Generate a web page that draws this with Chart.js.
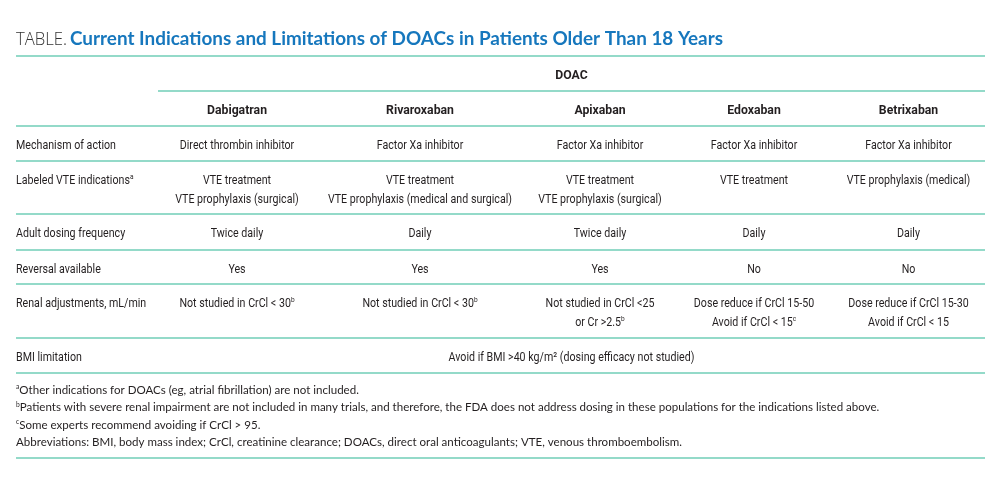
<!DOCTYPE html>
<html lang="en">

<head>
    <meta charset="UTF-8">
    <title>DOACs table</title>
    <script src="https://cdn.jsdelivr.net/npm/chart.js"></script>
    <style>
        html, body { margin: 0; padding: 0; background: #ffffff; }
        #tabela { display: block; }
    </style>
</head>

<body>
    <canvas id="tabela" width="1000" height="479"></canvas>

<script>
    // ---- dados da tabela ----
    const tituloPrefixo = 'TABLE.';
    const titulo = 'Current Indications and Limitations of DOACs in Patients Older Than 18 Years';
    const grupo = 'DOAC';
    const drogas = ['Dabigatran', 'Rivaroxaban', 'Apixaban', 'Edoxaban', 'Betrixaban'];
    const linhas = ['Mechanism of action', 'Labeled VTE indications^a', 'Adult dosing frequency',
        'Reversal available', 'Renal adjustments, mL/min', 'BMI limitation'];

    const mecanismo = ['Direct thrombin inhibitor', 'Factor Xa inhibitor', 'Factor Xa inhibitor',
        'Factor Xa inhibitor', 'Factor Xa inhibitor'];
    const indicacoes = [
        ['VTE treatment', 'VTE prophylaxis (surgical)'],
        ['VTE treatment', 'VTE prophylaxis (medical and surgical)'],
        ['VTE treatment', 'VTE prophylaxis (surgical)'],
        ['VTE treatment'],
        ['VTE prophylaxis (medical)']
    ];
    const dosagem = ['Twice daily', 'Daily', 'Twice daily', 'Daily', 'Daily'];
    const reversao = ['Yes', 'Yes', 'Yes', 'No', 'No'];
    const renal = [
        ['Not studied in CrCl < 30^b'],
        ['Not studied in CrCl < 30^b'],
        ['Not studied in CrCl <25', 'or Cr >2.5^b'],
        ['Dose reduce if CrCl 15-50', 'Avoid if CrCl < 15^c'],
        ['Dose reduce if CrCl 15-30', 'Avoid if CrCl < 15']
    ];
    const imc = 'Avoid if BMI >40 kg/m\u00B2 (dosing efficacy not studied)';

    const notas = [
        '^aOther indications for DOACs (eg, atrial fibrillation) are not included.',
        '^bPatients with severe renal impairment are not included in many trials, and therefore, the FDA does not address dosing in these populations for the indications listed above.',
        '^cSome experts recommend avoiding if CrCl > 95.',
        'Abbreviations: BMI, body mass index; CrCl, creatinine clearance; DOACs, direct oral anticoagulants; VTE, venous thromboembolism.'
    ];

    // ---- layout (unidades da tabela) ----
    const largurasColunas = [142, 158, 208, 152, 156, 153];
    const alturasLinhas = [35, 35, 35, 53, 36, 34, 54, 35];
    const deslocTexto = 18;
    const entreLinhas = 19;

    const corTexto = '#231f20';
    const corTitulo = '#1677bd';
    const corLinha = '#94dac9';
    const fonteCorpo = 'Roboto, "DejaVu Sans", sans-serif';
    const fonteNotas = 'Lato, "Open Sans", sans-serif';
    const tamCorpo = 13;

    const bordasX = [0];
    largurasColunas.forEach(function (w, i) { bordasX.push(bordasX[i] + w); });
    const bordasY = [0];
    alturasLinhas.forEach(function (h, i) { bordasY.push(bordasY[i] + h); });
    const larguraTotal = bordasX[bordasX.length - 1];
    const alturaTotal = bordasY[bordasY.length - 1];

    function centroColuna(c) { return (bordasX[c] + bordasX[c + 1]) / 2; }

    // monta as celulas (um ponto por linha de texto)
    const pontos = [];
    const celulas = [];

    function addCelula(linha, x, textos, alinhar, negrito) {
        textos.forEach(function (t, i) {
            pontos.push({ x: x, y: bordasY[linha] + deslocTexto + entreLinhas * i });
            celulas.push({ texto: t, alinhar: alinhar, negrito: negrito });
        });
    }

    addCelula(0, (bordasX[1] + larguraTotal) / 2, [grupo], 'center', true);
    drogas.forEach(function (d, c) { addCelula(1, centroColuna(c + 1), [d], 'center', true); });

    const corpo = [mecanismo, indicacoes, dosagem, reversao, renal];
    linhas.forEach(function (rot, r) {
        addCelula(r + 2, 0, [rot], 'left', false);
        if (r < corpo.length) {
            corpo[r].forEach(function (v, c) {
                addCelula(r + 2, centroColuna(c + 1), Array.isArray(v) ? v : [v], 'center', false);
            });
        }
    });
    addCelula(7, (bordasX[1] + larguraTotal) / 2, [imc], 'center', false);

    // desenha texto com sobrescrito marcado por ^x (escalaX comprime na horizontal)
    function textoComSobrescrito(ctx, texto, x, y, tamanho, familia, peso, alinhar, escalaX) {
        escalaX = escalaX || 1;
        const partes = [];
        const re = /\^(.)/g;
        let ultimo = 0, m;
        while ((m = re.exec(texto)) !== null) {
            if (m.index > ultimo) partes.push({ t: texto.slice(ultimo, m.index), sup: false });
            partes.push({ t: m[1], sup: true });
            ultimo = re.lastIndex;
        }
        if (ultimo < texto.length) partes.push({ t: texto.slice(ultimo), sup: false });

        const fNormal = peso + ' ' + tamanho + 'px ' + familia;
        const fSup = peso + ' ' + Math.round(tamanho * 0.6) + 'px ' + familia;
        let total = 0;
        partes.forEach(function (p) {
            ctx.font = p.sup ? fSup : fNormal;
            p.w = ctx.measureText(p.t).width * escalaX;
            total += p.w;
        });
        let cx = alinhar === 'center' ? x - total / 2 : x;
        ctx.textAlign = 'left';
        ctx.textBaseline = 'alphabetic';
        partes.forEach(function (p) {
            ctx.font = p.sup ? fSup : fNormal;
            ctx.save();
            ctx.translate(cx, p.sup ? y - tamanho * 0.38 : y);
            ctx.scale(escalaX, 1);
            ctx.fillText(p.t, 0, 0);
            ctx.restore();
            cx += p.w;
        });
    }

    function larguraTexto(ctx, fonte, texto) {
        ctx.font = fonte;
        return ctx.measureText(texto).width;
    }

    const pluginTabela = {
        id: 'pluginTabela',
        afterDatasetsDraw: function (chart) {
            const ctx = chart.ctx;
            const sx = chart.scales.x;
            const sy = chart.scales.y;
            const area = chart.chartArea;
            ctx.save();

            // fonte condensada: ajusta a largura para a do original
            const escNormal = 100 / larguraTexto(ctx, 'normal ' + tamCorpo + 'px ' + fonteCorpo, 'Mechanism of action');
            const escBold = 60 / larguraTexto(ctx, 'bold ' + tamCorpo + 'px ' + fonteCorpo, 'Dabigatran');

            // titulo
            ctx.fillStyle = '#333333';
            const escPref = 51 / larguraTexto(ctx, '300 19px "Open Sans", sans-serif', tituloPrefixo);
            textoComSobrescrito(ctx, tituloPrefixo, area.left, 45, 19, '"Open Sans", sans-serif', '300', 'left', escPref);
            ctx.fillStyle = corTitulo;
            const escTit = 653 / larguraTexto(ctx, 'bold 19px Lato, sans-serif', titulo);
            textoComSobrescrito(ctx, titulo, 70, 45, 19, 'Lato, sans-serif', 'bold', 'left', escTit);

            // linhas horizontais
            ctx.strokeStyle = corLinha;
            ctx.lineWidth = 2;
            bordasY.forEach(function (b, i) {
                const x0 = i === 1 ? sx.getPixelForValue(bordasX[1]) : sx.getPixelForValue(0);
                const y = Math.round(sy.getPixelForValue(b));
                ctx.beginPath();
                ctx.moveTo(x0, y);
                ctx.lineTo(sx.getPixelForValue(larguraTotal), y);
                ctx.stroke();
            });

            // celulas
            ctx.fillStyle = corTexto;
            const meta = chart.getDatasetMeta(0);
            meta.data.forEach(function (el, i) {
                const c = celulas[i];
                textoComSobrescrito(ctx, c.texto, el.x, el.y + 5, tamCorpo, fonteCorpo,
                    c.negrito ? 'bold' : 'normal', c.alinhar, c.negrito ? escBold : escNormal);
            });

            // notas de rodape
            const baseNotas = area.bottom + 21;
            const escNotas = 666 / larguraTexto(ctx, 'normal 12px ' + fonteNotas, notas[3]);
            notas.forEach(function (n, i) {
                textoComSobrescrito(ctx, n, area.left, baseNotas + 17.3 * i, 12, fonteNotas, 'normal', 'left', escNotas);
            });
            const yRodape = Math.round(baseNotas + 17.3 * 3 + 12);
            ctx.beginPath();
            ctx.moveTo(area.left, yRodape);
            ctx.lineTo(area.right, yRodape);
            ctx.stroke();

            ctx.restore();
        }
    };

    new Chart(document.getElementById('tabela'), {
        type: 'scatter',
        data: {
            datasets: [{
                data: pontos,
                pointRadius: 0,
                pointHoverRadius: 0
            }]
        },
        options: {
            responsive: false,
            animation: false,
            events: [],
            layout: { padding: { left: 16, right: 15, top: 56, bottom: 106 } },
            plugins: {
                legend: { display: false },
                tooltip: { enabled: false }
            },
            scales: {
                x: { type: 'linear', min: 0, max: larguraTotal, display: false },
                y: { type: 'linear', min: 0, max: alturaTotal, reverse: true, display: false }
            }
        },
        plugins: [pluginTabela]
    });
</script>
</body>

</html>
